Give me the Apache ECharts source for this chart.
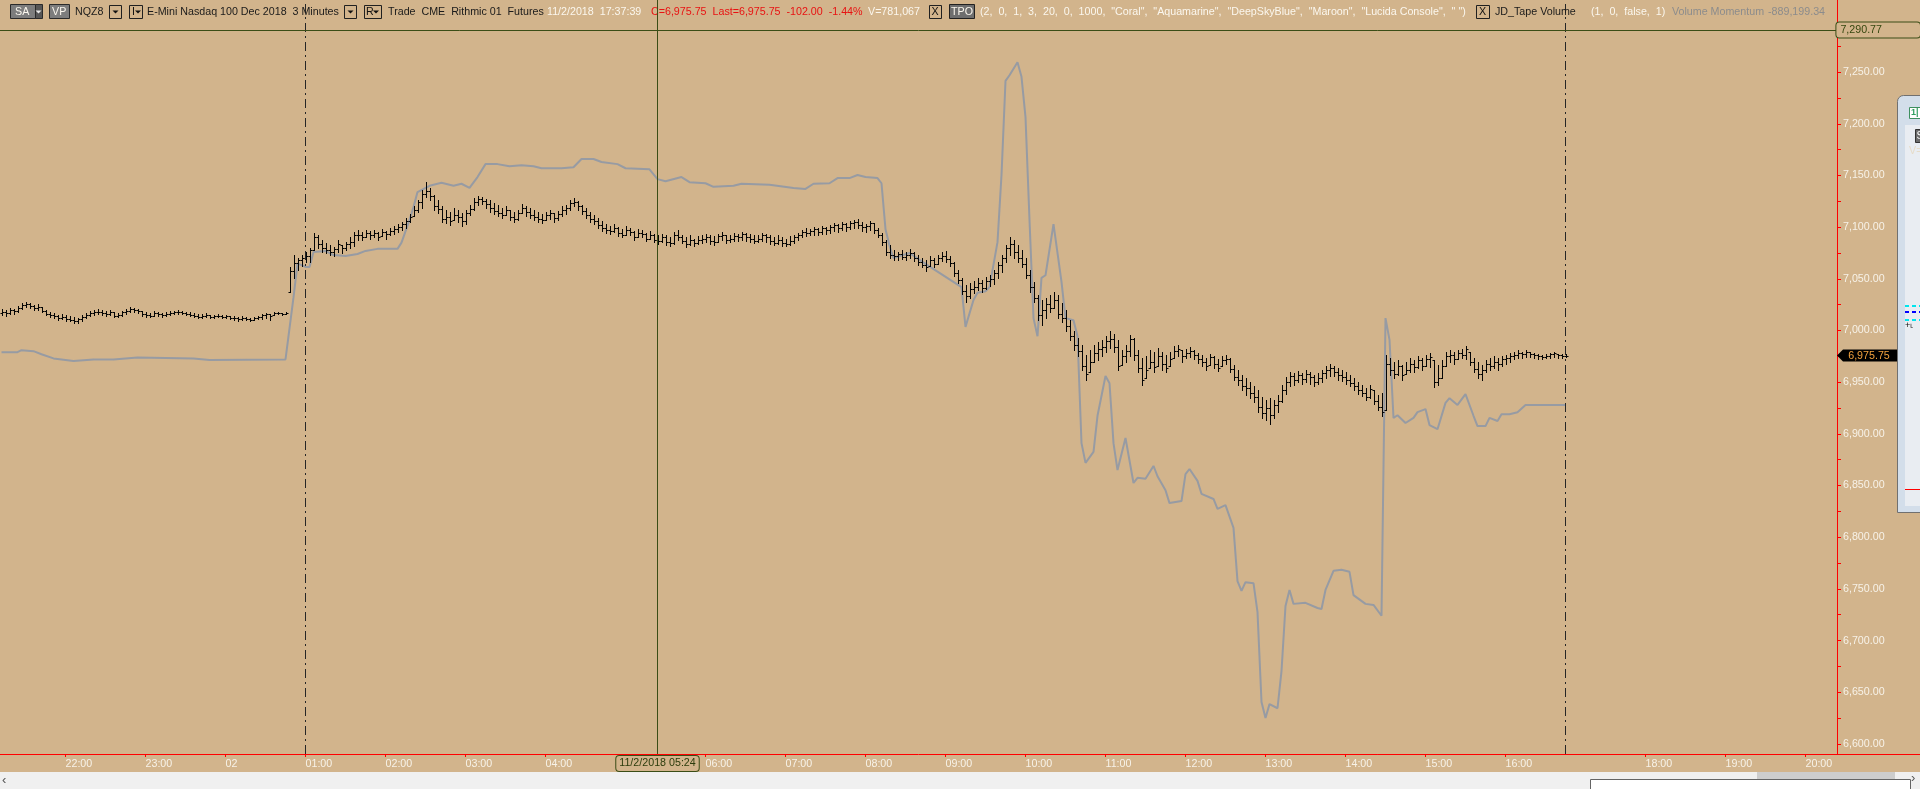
<!DOCTYPE html>
<html><head><meta charset="utf-8">
<script src="https://cdn.jsdelivr.net/npm/echarts@6/dist/echarts.min.js"></script>
<style>html,body{margin:0;padding:0;background:#f0f0f0;overflow:hidden}#c{width:1920px;height:789px}</style>
</head><body><div id="c"></div><script>
// ---------- DATA ----------
// 3-minute bars, bar 0 = 21:12 (bar 16 = 22:00). Open of each bar = previous close.
const firstOpen = 7017;
const highs = [
 7021,7020,7022,7021,7024,7027,7028,7027,7025,7026,7023,7020,7018,7017,7015,7016,
 7015,7014,7013,7012,7015,7017,7019,7020,7021,7020,7019,7020,7018,7017,7019,7021,
 7023,7022,7021,7019,7018,7017,7019,7018,7017,7018,7019,7019,7020,7019,7018,7018,
 7017,7016,7016,7017,7015,7015,7016,7015,7015,7014,7014,7013,7014,7013,7012,7013,
 7014,7016,7017,7016,7018,7018,7017,7018,
 7061,7073,7070,7073,7076,7080,7094,7092,7088,7085,
 7083,7081,7088,7083,7086,7090,7095,7097,7095,7097,
 7096,7097,7095,7098,7096,7099,7101,7103,7105,7109,
 7113,7120,7126,7136,7144,7138,7131,7126,7120,7117,
 7115,7119,7117,7114,7117,7121,7128,7130,7129,7127,
 7126,7123,7121,7119,7120,7117,7115,7117,7122,7120,
 7119,7117,7115,7113,7115,7117,7114,7116,7120,7121,
 7126,7128,7125,7121,7119,7115,7112,7109,7106,7103,
 7101,7103,7100,7098,7101,7099,7096,7098,7097,7094,
 7096,7093,7092,7093,7092,7090,7095,7097,7092,7090,
 7092,7089,7091,7092,7093,7092,7091,7093,7095,7092,
 7092,7094,7093,7095,7094,7093,7092,7092,7094,7093,
 7092,7090,7092,7090,7089,7091,7092,7094,7097,7099,
 7098,7100,7099,7101,7100,7102,7104,7103,7105,7104,
 7106,7107,7108,7105,7103,7106,7104,7099,7094,7088,
 7083,7078,7076,7078,7076,7079,7076,7073,7070,7068,
 7072,7070,7073,7076,7077,7072,7066,7059,7051,7044,
 7046,7048,7051,7049,7052,7054,7059,7066,7073,7083,
 7090,7088,7083,7078,7070,7059,7047,7034,7030,7031,
 7034,7037,7034,7027,7020,7010,7000,6993,6986,6976,
 6981,6986,6989,6991,6995,7000,6997,6991,6981,6986,
 6996,6993,6981,6973,6975,6981,6979,6983,6979,6976,
 6979,6985,6986,6981,6982,6984,6981,6978,6976,6973,
 6977,6975,6972,6975,6976,6973,6967,6962,6957,6954,
 6950,6946,6942,6936,6933,6935,6933,6938,6947,6955,
 6960,6959,6961,6959,6962,6960,6957,6959,6962,6966,
 6968,6966,6964,6962,6960,6957,6954,6950,6947,6944,
 6947,6942,6938,6940,6976,6973,6970,6971,6967,6970,
 6973,6971,6975,6973,6976,6978,6971,6967,6971,6979,
 6981,6979,6981,6982,6985,6979,6973,6970,6967,6971,
 6973,6975,6973,6975,6976,6978,6979,6981,6979,6981,
 6979,6978,6977,6976,6977,6978,6979,6977,6977,6977
];
const lows = [
 7015,7014,7016,7016,7018,7021,7023,7022,7020,7020,7018,7015,7013,7012,7010,7011,
 7009,7009,7007,7007,7009,7012,7014,7015,7016,7015,7014,7015,7013,7013,7014,7016,
 7018,7018,7017,7014,7013,7013,7014,7014,7013,7014,7015,7016,7016,7016,7015,7014,
 7013,7012,7012,7013,7012,7012,7013,7012,7012,7011,7010,7009,7010,7010,7009,7010,
 7011,7011,7012,7010,7015,7016,7015,7016,
 7037,7051,7059,7062,7066,7066,7078,7080,7076,7075,
 7073,7072,7076,7075,7078,7080,7082,7088,7088,7090,
 7089,7090,7088,7091,7089,7092,7093,7095,7097,7099,
 7105,7111,7115,7119,7129,7126,7117,7114,7105,7104,
 7102,7107,7105,7101,7103,7112,7117,7121,7122,7119,
 7115,7113,7111,7109,7112,7107,7105,7107,7114,7111,
 7109,7107,7105,7104,7107,7108,7105,7107,7111,7113,
 7117,7120,7117,7113,7109,7105,7103,7099,7096,7094,
 7093,7095,7091,7090,7092,7092,7088,7090,7090,7087,
 7089,7086,7084,7086,7083,7082,7084,7088,7085,7081,
 7083,7082,7084,7085,7086,7084,7083,7086,7088,7085,
 7086,7087,7087,7088,7087,7086,7085,7086,7087,7086,
 7084,7083,7084,7082,7082,7083,7085,7088,7090,7091,
 7092,7092,7092,7093,7093,7094,7096,7095,7097,7096,
 7098,7099,7099,7096,7095,7097,7094,7090,7083,7073,
 7070,7068,7068,7069,7068,7070,7067,7063,7061,7058,
 7062,7061,7064,7067,7066,7062,7053,7046,7035,7028,
 7031,7036,7039,7037,7040,7043,7045,7051,7057,7066,
 7073,7070,7066,7061,7051,7037,7028,7010,7005,7012,
 7018,7022,7012,7008,7000,6991,6981,6975,6962,6952,
 6960,6970,6971,6975,6979,6983,6979,6962,6967,6970,
 6975,6971,6960,6947,6954,6964,6960,6966,6962,6960,
 6966,6973,6975,6970,6973,6974,6972,6969,6966,6962,
 6967,6964,6961,6966,6968,6960,6952,6947,6942,6938,
 6935,6931,6921,6915,6913,6910,6915,6921,6931,6939,
 6946,6947,6950,6948,6950,6948,6946,6948,6950,6954,
 6956,6956,6952,6951,6948,6946,6942,6939,6937,6933,
 6935,6929,6923,6917,6923,6957,6954,6957,6952,6958,
 6960,6960,6964,6962,6966,6965,6945,6947,6954,6966,
 6970,6968,6972,6973,6972,6967,6960,6954,6952,6960,
 6962,6964,6962,6966,6968,6970,6972,6973,6973,6974,
 6974,6973,6972,6972,6973,6973,6974,6973,6973,6974
];
const closes = [
 7018,7017,7020,7019,7022,7025,7026,7024,7022,7023,7019,7016,7015,7014,7012,7013,
 7011,7010,7009,7011,7013,7015,7017,7018,7018,7017,7016,7018,7014,7015,7018,7019,
 7021,7020,7019,7016,7015,7014,7017,7016,7015,7016,7017,7018,7018,7017,7016,7015,
 7014,7013,7014,7015,7013,7014,7014,7013,7014,7012,7012,7011,7012,7011,7010,7012,
 7013,7015,7016,7014,7017,7017,7016,7017,
 7058,7065,7068,7070,7072,7078,7090,7084,7080,7078,
 7076,7079,7084,7080,7084,7086,7092,7092,7090,7094,
 7092,7094,7090,7095,7093,7096,7098,7100,7103,7106,
 7110,7117,7124,7132,7135,7130,7120,7118,7108,7110,
 7106,7112,7110,7106,7114,7118,7124,7127,7125,7122,
 7119,7116,7114,7112,7117,7110,7108,7114,7119,7115,
 7112,7110,7108,7107,7112,7114,7109,7113,7117,7119,
 7123,7124,7120,7116,7112,7108,7106,7102,7099,7097,
 7096,7099,7094,7092,7097,7095,7090,7094,7093,7089,
 7092,7088,7087,7090,7086,7085,7092,7090,7087,7084,
 7088,7085,7088,7089,7090,7087,7086,7091,7092,7088,
 7089,7091,7090,7093,7090,7089,7087,7089,7092,7090,
 7087,7085,7088,7085,7084,7087,7090,7092,7095,7094,
 7096,7098,7095,7099,7097,7100,7102,7099,7103,7100,
 7104,7105,7102,7100,7101,7104,7097,7092,7086,7076,
 7073,7072,7074,7071,7073,7075,7070,7066,7063,7061,
 7068,7064,7070,7072,7069,7065,7056,7049,7038,7033,
 7040,7042,7046,7041,7048,7050,7056,7063,7070,7080,
 7084,7076,7070,7064,7054,7042,7031,7015,7020,7026,
 7022,7030,7016,7012,7004,6995,6986,6980,6966,6958,
 6970,6978,6982,6984,6990,6992,6984,6966,6975,6980,
 6992,6976,6964,6952,6962,6970,6965,6975,6968,6964,
 6972,6980,6982,6975,6978,6980,6976,6972,6970,6966,
 6974,6968,6964,6971,6972,6963,6955,6952,6946,6944,
 6940,6936,6926,6920,6925,6918,6928,6932,6942,6950,
 6956,6952,6957,6953,6958,6955,6950,6954,6959,6962,
 6964,6960,6957,6955,6952,6949,6946,6942,6940,6936,
 6943,6932,6926,6921,6968,6962,6958,6966,6957,6962,
 6968,6965,6971,6966,6972,6974,6950,6954,6966,6975,
 6976,6972,6978,6976,6982,6970,6963,6958,6962,6968,
 6966,6970,6968,6972,6973,6975,6976,6978,6977,6979,
 6977,6976,6975,6974,6975,6977,6978,6976,6975,6975.75
];
// Volume Momentum overlay, [bar, value in price-scale units]
const momentumPoints = [
 [0,6979],[4,6979],[5,6981],[8,6980],[10,6977],[13,6973],[18,6970.5],[23,6972],[28,6972],[34,6974],
 [48,6973],[52,6971.5],[71,6972],[73,7032],[74,7065],[76,7061.5],[77,7061.5],[78,7076],[81,7077],[83,7073],
 [86,7072],[89,7074],[91,7077],[94,7079],[99,7079],[100,7085],[102,7107],[103,7119.5],[104,7134],[107,7140],
 [110,7143],[113,7140],[115,7142],[117,7138],[119,7148.5],[121,7161],[124,7161],[127,7159],[130,7160],[133,7159],
 [135,7157],[140,7157],[143,7158],[145,7166],[148,7166],[150,7163],[154,7161],[156,7157],[162,7156],[164,7146.5],
 [166,7144.5],[170,7148.5],[172,7143.5],[176,7142.5],[178,7139],[183,7140],[185,7142],[192,7141],[198,7138],[201,7137],
 [203,7142],[207,7142.5],[209,7147.5],[212,7147.5],[214,7150.5],[216,7148.5],[219,7147.5],[220,7142.5],[221,7098],[222,7082],
 [223,7070],[227,7075],[231,7064.5],[240,7042],[241,7003.5],[243,7029.5],[244,7036.5],[246,7038],[247,7042],[249,7085.5],
 [250,7150.5],[251,7241.5],[252,7247],[254,7259.5],[255,7245.5],[256,7206.5],[257,7107],[258,7012],[259,6994.5],[260,7051],
 [261,7053.5],[263,7103],[265,7047],[266,7012],[268,7010],[269,6994.5],[270,6891],[271,6872],[273,6882.5],[274,6917.5],
 [276,6956],[277,6949],[278,6891],[279,6865],[281,6896],[283,6852.5],[284,6857.5],[286,6856.5],[288,6869],[289,6859],
 [291,6845.5],[292,6833],[295,6835],[296,6861],[297,6866],[299,6854.5],[300,6842],[303,6837],[304,6827.5],[306,6831],
 [308,6809],[309,6757.5],[310,6748],[311,6756.5],[313,6755.5],[314,6727.5],[315,6640.5],[316,6625],[317,6638.5],[319,6634.5],
 [320,6670.5],[321,6733.5],[322,6749],[323,6735.5],[326,6736.5],[329,6731.5],[330,6730.5],[331,6749],[333,6767.5],[335,6768.5],
 [337,6766.5],[338,6744],[341,6735.5],[343,6734.5],[345,6724],[346,7012],[347,6991],[348,6915.5],[349,6918],[351,6910.5],
 [353,6915.5],[354,6921],[356,6924],[357,6908.5],[359,6904.5],[361,6930],[362,6934.5],[364,6928],[366,6938.5],[368,6917.5],
 [369,6907.5],[371,6907.5],[372,6915.5],[374,6912.5],[375,6919],[377,6919],[379,6921],[381,6928],[391,6928]
];
// time axis ticks (bar index) and labels
const tickBars   = [16,36,56,76,96,116,136,156,176,196,216,236,256,276,296,316,336,356,376,411,431,451];
const tickLabels = ['22:00','23:00','02','01:00','02:00','03:00','04:00','05:00','06:00','07:00','08:00','09:00',
                    '10:00','11:00','12:00','13:00','14:00','15:00','16:00','18:00','19:00','20:00'];
const sessionBreakBars = [76, 391];
const cursorBar = 164, cursorLabel = '11/2/2018 05:24';
const cursorPrice = 7290.77;
const priceLabels = [6600,6650,6700,6750,6800,6850,6900,6950,7000,7050,7100,7150,7200,7250];
const priceTicks = [6600,6625,6650,6675,6700,6725,6750,6775,6800,6825,6850,6875,6900,6925,6950,6975,7000,7025,
                    7050,7075,7100,7125,7150,7175,7200,7225,7250,7275];
const X_MIN = -0.375, X_MAX = 458.875, Y_MIN = 6590.24, Y_MAX = 7319.80;

// ---------- CHART ----------
const FONT = '"Liberation Sans", Arial, sans-serif';
const FS = 10.7;
const TAN = '#D2B48C';
const LIGHT = '#f7f2e8';
const CURSOR = '#3b4d16';
const fmt = v => Number(v).toFixed(2).replace(/\B(?=(\d{3})+(?!\d))/g, ',');

const ohlc = closes.map((c, i) => [i, i === 0 ? firstOpen : closes[i - 1], highs[i], lows[i], c]);
const lastPrice = closes[closes.length - 1];

const chart = echarts.init(document.getElementById('c'), null, {renderer: 'canvas'});

function txt(x, text, color, extra) {
  return Object.assign({type: 'text', x: x, y: 12, z: 50, style: {text: text, fill: color, font: FS + 'px ' + FONT, textVerticalAlign: 'middle'}}, extra || {});
}
function box(x, y, w, h, fill, stroke) {
  return {type: 'rect', z: 49, shape: {x: x + 0.5, y: y + 0.5, width: w, height: h}, style: {fill: fill, stroke: stroke, lineWidth: 1}};
}
function tri(cx, cy, color) {
  return {type: 'polygon', z: 51, shape: {points: [[cx - 3, cy - 1.5], [cx + 3, cy - 1.5], [cx, cy + 1.5]]}, style: {fill: color}};
}
const DARK = '#1a1a1a', WHITE = '#fbf7ee', RED = '#e81212', GRAY = '#8c8c8c';

const header = [
  box(10, 4, 25, 14, '#7d7d7d', '#2a2a2a'), txt(15, 'SA', WHITE),
  box(35, 4, 7, 14, '#565656', '#2a2a2a'), tri(38.5, 12, '#e8e8e8'),
  box(49, 4, 20, 14, '#7d7d7d', '#2a2a2a'), txt(52, 'VP', WHITE),
  txt(75, 'NQZ8', DARK),
  box(109, 5, 12, 13, TAN, '#202020'), tri(115.5, 12, '#111'),
  box(129, 5, 13, 13, TAN, '#202020'), txt(132, 'I', '#111'), tri(138, 12, '#111'),
  txt(147, 'E-Mini Nasdaq 100 Dec 2018  3 Minutes', DARK),
  box(344, 5, 12, 13, TAN, '#202020'), tri(350.5, 12, '#111'),
  box(364, 5, 17, 13, TAN, '#202020'), txt(366, 'R', '#111'), tri(376, 12, '#111'),
  txt(388, 'Trade  CME  Rithmic 01  Futures', DARK),
  txt(547, '11/2/2018  17:37:39', WHITE),
  txt(651, 'C=6,975.75  Last=6,975.75  -102.00  -1.44%', RED),
  txt(868, 'V=781,067', WHITE),
  box(929, 5, 12, 13, TAN, '#202020'), txt(931.5, 'X', '#111'),
  box(949, 4, 25, 14, '#6e6e6e', '#202020'), txt(951, 'TPO', WHITE),
  txt(980, '(2,  0,  1,  3,  20,  0,  1000,  "Coral",  "Aquamarine",  "DeepSkyBlue",  "Maroon",  "Lucida Console",  " ")', WHITE),
  box(1476, 5, 13, 13, TAN, '#202020'), txt(1479, 'X', '#111'),
  txt(1495, 'JD_Tape Volume', DARK),
  txt(1591, '(1,  0,  false,  1)', WHITE),
  txt(1672, 'Volume Momentum', GRAY),
  txt(1768, '-889,199.34', GRAY)
];

const decor = [
  // x-axis line continues under the price scale
  {type: 'line', z: 40, shape: {x1: 1837, y1: 754.5, x2: 1920, y2: 754.5}, style: {stroke: '#ff0000', lineWidth: 1}},
  // bottom scroll bar strip
  {type: 'rect', z: 40, shape: {x: 0, y: 772, width: 1920, height: 17}, style: {fill: '#f0f0f0'}},
  {type: 'rect', z: 41, shape: {x: 1757, y: 772, width: 138, height: 7}, style: {fill: '#cdcdcd'}},
  {type: 'rect', z: 42, shape: {x: 1590.5, y: 779.5, width: 320, height: 14}, style: {fill: '#ffffff', stroke: '#646464', lineWidth: 1}},
  {type: 'text', z: 42, x: 2, y: 774, style: {text: '‹', fill: '#555', font: '13px ' + FONT}},
  {type: 'text', z: 42, x: 1911, y: 772, style: {text: '›', fill: '#555', font: '13px ' + FONT}},
  // floating window at the right edge
  {type: 'rect', z: 60, shape: {x: 1897.5, y: 95.5, width: 30, height: 417, r: [6, 0, 0, 0]}, style: {fill: '#d3deea', stroke: '#707070', lineWidth: 1}},
  {type: 'rect', z: 61, shape: {x: 1905, y: 125, width: 20, height: 381}, style: {fill: '#e9edf2'}},
  {type: 'rect', z: 62, shape: {x: 1909.5, y: 107.5, width: 12, height: 11}, style: {fill: '#ffffff', stroke: '#3f8f5f', lineWidth: 1}},
  {type: 'text', z: 63, x: 1911, y: 108, style: {text: '1|', fill: '#2f9f5f', font: 'bold 9px ' + FONT}},
  {type: 'rect', z: 62, shape: {x: 1915.5, y: 129.5, width: 8, height: 13}, style: {fill: '#6a6a6a', stroke: '#333', lineWidth: 1}},
  {type: 'text', z: 63, x: 1916.5, y: 131, style: {text: 'S', fill: '#ffffff', font: FS + 'px ' + FONT}},
  {type: 'text', z: 63, x: 1909, y: 146, style: {text: 'V=', fill: '#e6dcc8', font: FS + 'px ' + FONT}},
  {type: 'line', z: 63, shape: {x1: 1905, y1: 306, x2: 1920, y2: 306}, style: {stroke: '#00e5ee', lineWidth: 2, lineDash: [4, 3]}},
  {type: 'line', z: 63, shape: {x1: 1905, y1: 312, x2: 1920, y2: 312}, style: {stroke: '#0000ff', lineWidth: 2, lineDash: [4, 3]}},
  {type: 'line', z: 63, shape: {x1: 1905, y1: 320, x2: 1920, y2: 320}, style: {stroke: '#00e5ee', lineWidth: 2, lineDash: [4, 3]}},
  {type: 'text', z: 63, x: 1905, y: 321, style: {text: '+˪', fill: '#111', font: '9px ' + FONT}},
  {type: 'line', z: 63, shape: {x1: 1905, y1: 489.5, x2: 1920, y2: 489.5}, style: {stroke: '#ff0000', lineWidth: 1}}
];

const option = {
  backgroundColor: TAN,
  animation: false,
  grid: {left: 0, right: 83, top: 0, bottom: 35},
  xAxis: {
    type: 'value', min: X_MIN, max: X_MAX,
    axisLine: {show: true, onZero: false, lineStyle: {color: '#ff0000', width: 1}},
    axisTick: {show: true, customValues: tickBars, length: 3, lineStyle: {color: '#ff0000'}},
    axisLabel: {show: true, customValues: tickBars, align: 'left', margin: 5, color: LIGHT, fontSize: FS, fontFamily: FONT,
      formatter: v => tickLabels[tickBars.indexOf(v)] || ''},
    splitLine: {show: false},
    axisPointer: {show: true, type: 'line', value: cursorBar, status: 'show', snap: false, triggerTooltip: false,
      lineStyle: {color: CURSOR, width: 1, type: 'solid'},
      label: {show: true, formatter: cursorLabel, backgroundColor: TAN, borderColor: CURSOR, borderWidth: 1,
        color: '#2c3c0c', padding: [2, 3, 2, 3], margin: 2, fontSize: FS, fontFamily: FONT}}
  },
  yAxis: {
    type: 'value', position: 'right', min: Y_MIN, max: Y_MAX, scale: true,
    axisLine: {show: true, onZero: false, lineStyle: {color: '#ff0000', width: 1}},
    axisTick: {show: true, customValues: priceTicks, length: 4, lineStyle: {color: '#ff0000'}},
    axisLabel: {show: true, customValues: priceLabels, margin: 6, color: LIGHT, fontSize: FS, fontFamily: FONT, formatter: v => fmt(v)},
    splitLine: {show: false},
    axisPointer: {show: true, type: 'line', value: cursorPrice, status: 'show', snap: false, triggerTooltip: false,
      lineStyle: {color: CURSOR, width: 1, type: 'solid'},
      label: {show: true, formatter: fmt(cursorPrice), backgroundColor: TAN, borderColor: CURSOR, borderWidth: 1,
        color: '#34460f', padding: [2, 38, 2, 4], margin: 0, fontSize: FS, fontFamily: FONT}}
  },
  series: [
    {
      type: 'line', name: 'Volume Momentum', data: momentumPoints, showSymbol: false, symbol: 'none', z: 2,
      lineStyle: {color: '#979ba3', width: 2}, silent: true,
      markLine: {silent: true, symbol: 'none', label: {show: false},
        lineStyle: {color: '#262626', width: 1, type: [9, 4, 2, 4]},
        data: sessionBreakBars.map(b => ({xAxis: b}))},
      markPoint: {silent: true,
        symbol: 'path://M0 6 L6 0 L62 0 L62 12 L6 12 Z', symbolSize: [62, 12], symbolKeepAspect: false, symbolOffset: [31, 0],
        itemStyle: {color: '#000'},
        label: {show: true, position: 'inside', offset: [1, 0], formatter: fmt(lastPrice), color: '#f2a23e', fontSize: FS, fontFamily: FONT},
        data: [{coord: [X_MAX, lastPrice], value: lastPrice}]}
    },
    {
      type: 'custom', name: 'NQZ8', z: 3, data: ohlc, encode: {x: 0, y: [1, 2, 3, 4]},
      renderItem: function (params, api) {
        const i = api.value(0), o = api.value(1), h = api.value(2), l = api.value(3), c = api.value(4);
        const pH = api.coord([i, h]), pL = api.coord([i, l]);
        const oo = Math.min(Math.max(o, l), h);
        const pO = api.coord([i, oo]), pC = api.coord([i, c]);
        const x = Math.round(pH[0]) + 0.5;
        const yo = Math.round(pO[1]) + 0.5, yc = Math.round(pC[1]) + 0.5;
        const st = {stroke: '#050505', lineWidth: 1};
        return {type: 'group', children: [
          {type: 'line', shape: {x1: x, y1: Math.round(pH[1]), x2: x, y2: Math.round(pL[1]) + 1}, style: st},
          {type: 'line', shape: {x1: x - 2, y1: yo, x2: x, y2: yo}, style: st},
          {type: 'line', shape: {x1: x, y1: yc, x2: x + 2, y2: yc}, style: st}
        ]};
      }
    }
  ],
  graphic: {elements: header.concat(decor)}
};
chart.setOption(option);
</script></body></html>
